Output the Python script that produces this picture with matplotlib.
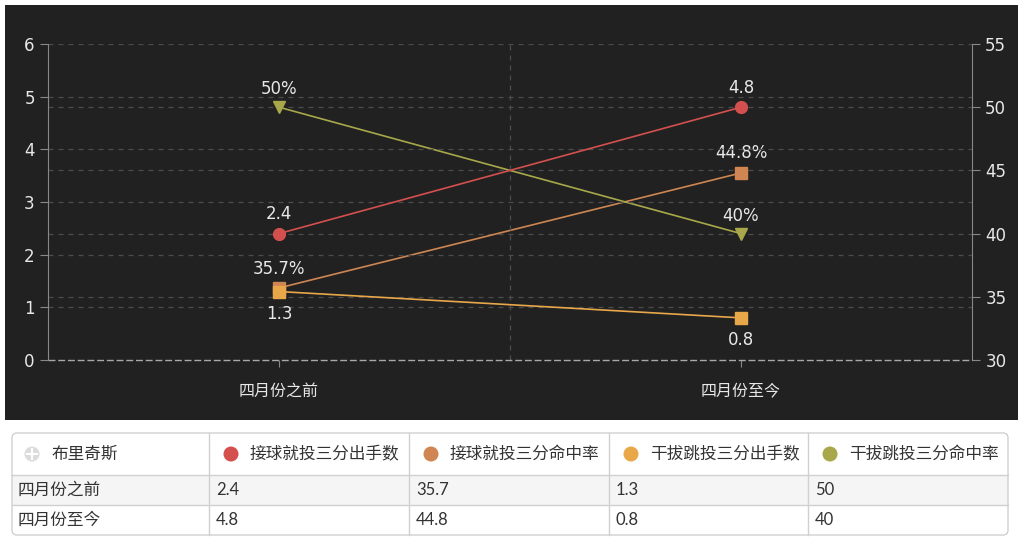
import matplotlib.pyplot as plt
from matplotlib.patches import Rectangle, FancyBboxPatch, Circle

plt.rcParams['font.family'] = ['DejaVu Sans', 'Noto Sans CJK SC']

# data
categories = ['四月份之前', '四月份至今']
series_names = ['接球就投三分出手数', '接球就投三分命中率', '干拔跳投三分出手数', '干拔跳投三分命中率']
catch_att = [2.4, 4.8]
catch_pct = [35.7, 44.8]
pullup_att = [1.3, 0.8]
pullup_pct = [50, 40]
player = '布里奇斯'

colors = ['#d4504f', '#cf8652', '#e8a84a', '#a8a84a']
bg = '#212121'
txt = '#e8e8e8'

fig = plt.figure(figsize=(10.2, 5.54), dpi=100)
fig.patch.set_facecolor('white')

# dark chart background
fig.patches.append(Rectangle((5 / 1020, 134 / 554), 1013 / 1020, 415 / 554,
                             transform=fig.transFigure, facecolor=bg, edgecolor='none', zorder=0))

ax = fig.add_axes([48 / 1020, 194 / 554, 924 / 1020, 316 / 554])
ax2 = ax.twinx()
ax.set_facecolor('none')
ax2.set_facecolor('none')

x = [0, 1]
ax.set_xlim(-0.5, 1.5)
ax.set_ylim(0, 6)
ax2.set_ylim(30, 55)

# grids
for v in range(1, 7):
    ax.axhline(v, color='#4c4c4c', lw=0.9, ls=(0, (4, 4)), zorder=1)
for v in [35, 40, 45, 50]:
    ax2.axhline(v, color='#4c4c4c', lw=0.9, ls=(0, (4, 4)), zorder=1)
ax.axvline(0.5, color='#4c4c4c', lw=0.9, ls=(0, (4, 4)), zorder=1)
ax.axhline(0, color='#a8a8a8', lw=1.0, ls=(0, (5, 2)), zorder=2, clip_on=False)

for a in (ax, ax2):
    for s in ['top', 'bottom']:
        a.spines[s].set_visible(False)
    a.spines['left'].set_color('#888888')
    a.spines['right'].set_color('#888888')
ax.spines['right'].set_visible(False)
ax2.spines['left'].set_visible(False)

ax.set_xticks(x)
ax.set_xticklabels(categories, fontsize=11.5, color=txt)
ax.set_yticks(range(0, 7))
ax2.set_yticks([30, 35, 40, 45, 50, 55])
ax.tick_params(axis='y', colors='#888888', labelcolor=txt, labelsize=12, length=6)
ax2.tick_params(axis='y', colors='#888888', labelcolor=txt, labelsize=12, length=6)
ax.tick_params(axis='x', colors='#888888', labelcolor=txt, length=5, pad=12)

# series
ax.plot(x, catch_att, color=colors[0], lw=1.2, marker='o', ms=8.5, zorder=5)
ax2.plot(x, catch_pct, color=colors[1], lw=1.2, marker='s', ms=8.5, zorder=5)
ax.plot(x, pullup_att, color=colors[2], lw=1.2, marker='s', ms=8.5, zorder=6)
ax2.plot(x, pullup_pct, color=colors[3], lw=1.2, marker='v', ms=9, zorder=5)

ax.set_zorder(3)
ax2.set_zorder(2)

lab = dict(ha='center', va='center', color=txt, fontsize=12, textcoords='offset points')
for i in x:
    ax.annotate(f'{catch_att[i]}', (i, catch_att[i]), xytext=(0, 14), **lab)
    ax.annotate(f'{pullup_att[i]}', (i, pullup_att[i]), xytext=(0, -16), **lab)
    ax2.annotate(f'{catch_pct[i]}%', (i, catch_pct[i]), xytext=(0, 14), **lab)
    ax2.annotate(f'{pullup_pct[i]}%', (i, pullup_pct[i]), xytext=(0, 13), **lab)

# table below the chart, drawn in pixel coordinates
tb = fig.add_axes([0, 0, 1, 1])
tb.set_xlim(0, 1020)
tb.set_ylim(554, 0)
tb.axis('off')
tb.set_zorder(0)

col_edges = [12, 209, 409, 609, 808, 1008]
row_edges = [433, 475, 505, 535]
line_c = '#d0d0d0'
tfont = ['Lato', 'Noto Sans CJK SC']

tb.add_patch(Rectangle((12, 475), 996, 30, facecolor='#f5f5f5', edgecolor='none'))
tb.add_patch(FancyBboxPatch((12, 433), 996, 102, boxstyle='round,pad=0,rounding_size=5',
                            facecolor='none', edgecolor=line_c, lw=1.0))
for xe in col_edges[1:-1]:
    tb.plot([xe, xe], [433, 535], color=line_c, lw=1.0)
for ye in row_edges[1:-1]:
    tb.plot([12, 1008], [ye, ye], color=line_c, lw=1.0)

hy = 454
tb.add_patch(Circle((32, hy), 7.5, facecolor='#dcdcdc', edgecolor='none'))
tb.plot([27, 37], [hy, hy], color='white', lw=1.5)
tb.plot([32, 32], [hy - 5, hy + 5], color='white', lw=1.5)
tb.text(52, hy, player, fontsize=12, color='#333333', va='center', family=tfont)
for j, name in enumerate(series_names):
    cx = col_edges[j + 1]
    tb.add_patch(Circle((cx + 22, hy), 7.5, facecolor=colors[j], edgecolor='none'))
    tb.text(cx + 41, hy, name, fontsize=12, color='#333333', va='center', family=tfont)

rows = [[catch_att[i], catch_pct[i], pullup_att[i], pullup_pct[i]] for i in x]
for i, cat in enumerate(categories):
    ry = (row_edges[i + 1] + row_edges[i + 2]) / 2
    tb.text(18, ry, cat, fontsize=12, color='#333333', va='center', family=tfont)
    for j, v in enumerate(rows[i]):
        tb.text(col_edges[j + 1] + 7, ry, f'{v:g}', fontsize=12, color='#333333',
                va='center', family=tfont)

fig.savefig('out.png', dpi=100, facecolor=fig.get_facecolor())
